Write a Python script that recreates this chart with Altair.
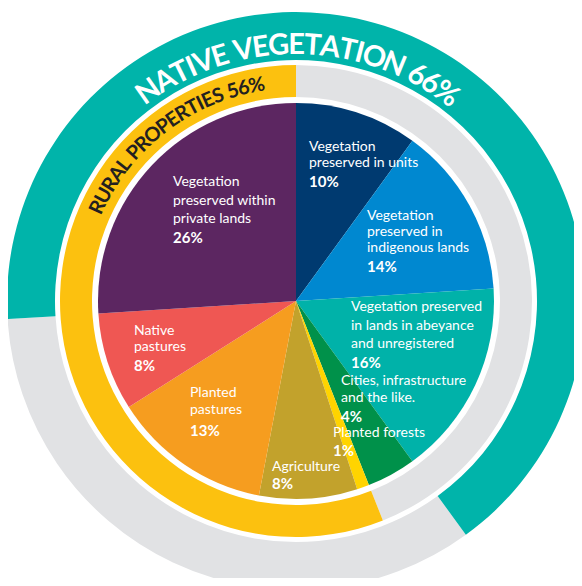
import math
import altair as alt
import pandas as pd

# ---------------- data ----------------
categories = [
    "Vegetation preserved in units",
    "Vegetation preserved in indigenous lands",
    "Vegetation preserved in lands in abeyance and unregistered",
    "Cities, infrastructure and the like.",
    "Planted forests",
    "Agriculture",
    "Planted pastures",
    "Native pastures",
    "Vegetation preserved within private lands",
]
values = [10, 14, 16, 4, 1, 8, 13, 8, 26]

inner_ring_names = ["Other land", "Rural properties"]
inner_ring_start = [0, 44]
inner_ring_end = [44, 100]

outer_ring_names = ["Other land", "Native vegetation"]
outer_ring_start = [40, 74]
outer_ring_end = [74, 140]

native_title = "NATIVE VEGETATION 66%"
rural_title = "RURAL PROPERTIES 56%"

# label lines (page layout)
line_text = [
    "Vegetation", "preserved in units",
    "Vegetation", "preserved in", "indigenous lands",
    "Vegetation preserved", "in lands in abeyance", "and unregistered",
    "Cities, infrastructure", "and the like.",
    "Planted forests",
    "Agriculture",
    "Planted", "pastures",
    "Native", "pastures",
    "Vegetation", "preserved within", "private lands",
]
line_x = [309, 309, 367, 367, 367, 351, 351, 351, 341, 341, 333, 272,
          190, 190, 134, 134, 173, 173, 173]
line_y = [146.5, 162.5, 216, 232, 248, 306.5, 325.5, 343.5, 381, 398, 433, 466.5,
          393, 410, 330.5, 346.5, 181.5, 200.5, 219.4]
pct_x = [309, 367, 351, 341, 333, 272, 190, 134, 173]
pct_y = [181.5, 267, 363, 416.5, 450.5, 484, 431, 366, 238]

# ---------------- styles ----------------
slice_colors = ["#003a70", "#0088d0", "#00b2a9", "#00914a", "#ffd400",
                "#c2a22c", "#f69d1f", "#ef5753", "#5c2661"]
inner_colors = ["#e1e2e4", "#fcc10f"]
outer_colors = ["#e1e2e4", "#00b4aa"]
FONT = "Lato"
CX, CY = 288, 293          # centre inside the chart
OFF = 8                    # page margin

char_w = {" ": 0.26, "%": 0.82, "I": 0.30, "A": 0.70, "N": 0.76, "T": 0.60,
          "V": 0.68, "E": 0.58, "G": 0.74, "O": 0.80, "6": 0.58, "5": 0.58,
          "R": 0.64, "U": 0.74, "L": 0.52, "P": 0.62, "S": 0.56}


def arc_chars(text, center_deg, span_deg):
    w = [char_w.get(c, 0.62) for c in text]
    tot = sum(w)
    rows, cum = [], 0.0
    for c, wi in zip(text, w):
        deg = center_deg - span_deg / 2 + (cum + wi / 2) / tot * span_deg
        cum += wi
        rows.append({"ch": c, "th": math.radians(deg), "rot": deg % 360})
    return pd.DataFrame(rows)


pie_df = pd.DataFrame({"cat": categories, "value": values,
                       "order": list(range(len(values)))})
inner_df = pd.DataFrame({"name": inner_ring_names, "s": inner_ring_start,
                         "e": inner_ring_end})
outer_df = pd.DataFrame({"name": outer_ring_names, "s": outer_ring_start,
                         "e": outer_ring_end})
lines_df = pd.DataFrame({"t": line_text, "x": [v - OFF for v in line_x],
                         "y": [v - OFF for v in line_y]})
pct_df = pd.DataFrame({"t": [f"{v}%" for v in values],
                       "x": [v - OFF for v in pct_x],
                       "y": [v - OFF for v in pct_y]})
native_df = arc_chars(native_title, 0.5, 76)
rural_df = arc_chars(rural_title, -37.3, 58)

ring_scale = alt.Scale(domain=[0, 100], range=[0, 2 * math.pi])

outer = alt.Chart(outer_df).mark_arc(innerRadius=241, outerRadius=289).encode(
    theta=alt.Theta("s:Q", scale=ring_scale, stack=None),
    theta2="e:Q",
    color=alt.Color("name:N", scale=alt.Scale(domain=outer_ring_names,
                                              range=outer_colors), legend=None),
    x=alt.value(CX), y=alt.value(CY),
)
inner = alt.Chart(inner_df).mark_arc(innerRadius=204, outerRadius=236).encode(
    theta=alt.Theta("s:Q", scale=ring_scale, stack=None),
    theta2="e:Q",
    color=alt.Color("name:N", scale=alt.Scale(domain=inner_ring_names,
                                              range=inner_colors), legend=None),
    x=alt.value(CX), y=alt.value(CY),
)
pie = alt.Chart(pie_df).mark_arc(outerRadius=198, innerRadius=0).encode(
    theta=alt.Theta("value:Q", stack=True),
    order=alt.Order("order:Q"),
    color=alt.Color("cat:N", scale=alt.Scale(domain=categories,
                                             range=slice_colors), legend=None),
    x=alt.value(CX), y=alt.value(CY),
)
native_txt = alt.Chart(native_df).mark_text(
    radius=256, font=FONT, fontSize=29, fontWeight="bold", color="white",
    align="center", baseline="middle").encode(
    theta=alt.Theta("th:Q", scale=None, stack=None),
    angle=alt.Angle("rot:Q", scale=None),
    text="ch:N",
    x=alt.value(CX), y=alt.value(CY),
)
rural_txt = alt.Chart(rural_df).mark_text(
    radius=219, font=FONT, fontSize=20, fontWeight="bold", color="#231f20",
    align="center", baseline="middle").encode(
    theta=alt.Theta("th:Q", scale=None, stack=None),
    angle=alt.Angle("rot:Q", scale=None),
    text="ch:N",
    x=alt.value(CX), y=alt.value(CY),
)
lines = alt.Chart(lines_df).mark_text(
    font=FONT, fontSize=14, color="white", align="left", baseline="middle").encode(
    x=alt.X("x:Q", scale=None), y=alt.Y("y:Q", scale=None), text="t:N")
pcts = alt.Chart(pct_df).mark_text(
    font=FONT, fontSize=15, fontWeight="bold", color="white", align="left",
    baseline="middle").encode(
    x=alt.X("x:Q", scale=None), y=alt.Y("y:Q", scale=None), text="t:N")

chart = alt.layer(outer, inner, pie, native_txt, rural_txt, lines, pcts).resolve_scale(
    color="independent", theta="independent"
).properties(
    width=566, height=570, padding=0,
    autosize=alt.AutoSizeParams(type="none"),
    background="white",
).configure_view(stroke=None)

chart.save("out.html", embed_options={"renderer": "svg", "actions": False})
